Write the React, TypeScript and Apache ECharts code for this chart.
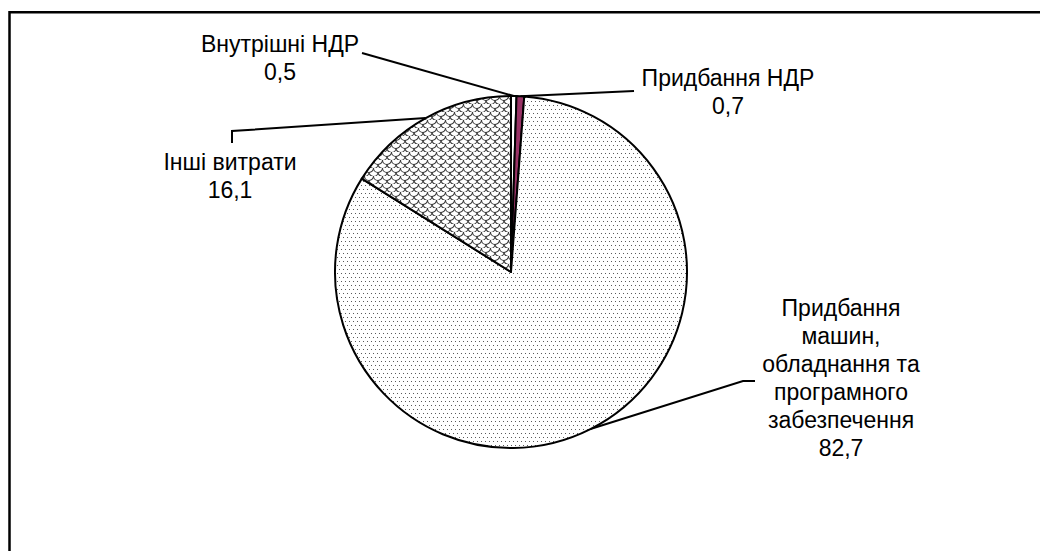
import React, { useEffect, useRef } from "react";
import * as echarts from "echarts";

const categories = [
  "Внутрішні НДР",
  "Придбання НДР",
  "Придбання\nмашин,\nобладнання та\nпрограмного\nзабезпечення",
  "Інші витрати",
];
const values = [0.5, 0.7, 82.7, 16.1];

// label placement (center x, top y) and leader line bends
const labelX = [280, 728, 841, 230];
const labelY = [30, 64, 294, 148];
const lineBends: number[][][] = [
  [[362, 53]],
  [[634, 91]],
  [[743, 381], [755, 381]],
  [[232, 131], [232, 143]],
];

function makeDotTile() {
  const c = document.createElement("canvas");
  c.width = 4;
  c.height = 8;
  const ctx = c.getContext("2d")!;
  ctx.fillStyle = "#ffffff";
  ctx.fillRect(0, 0, 4, 8);
  ctx.fillStyle = "#5a5a5a";
  ctx.fillRect(1, 1, 1, 1);
  ctx.fillRect(3, 5, 1, 1);
  return { image: c.toDataURL(), repeat: "repeat", imageWidth: 4, imageHeight: 8 };
}

function makeScaleTile() {
  const w = 9;
  const h = 8;
  const c = document.createElement("canvas");
  c.width = w;
  c.height = h;
  const ctx = c.getContext("2d")!;
  ctx.fillStyle = "#ffffff";
  ctx.fillRect(0, 0, w, h);
  ctx.strokeStyle = "#3a3a3a";
  ctx.lineWidth = 1.1;
  const centers = [
    [0, 0],
    [w, 0],
    [w / 2, h / 2],
    [0, h],
    [w, h],
  ];
  centers.forEach(([cx, cy]) => {
    ctx.beginPath();
    ctx.arc(cx, cy, w / 2, 0, Math.PI);
    ctx.stroke();
  });
  return { image: c.toDataURL(), repeat: "repeat", imageWidth: w, imageHeight: h };
}

export default function App() {
  const ref = useRef<HTMLDivElement>(null);
  useEffect(() => {
    if (!ref.current) return;
    const chart = echarts.init(ref.current, undefined, { renderer: "svg" });
    const fills: any[] = ["#ffffff", "#993366", makeDotTile(), makeScaleTile()];
    chart.setOption({
      animation: false,
      backgroundColor: "#ffffff",
      graphic: [
        {
          type: "rect",
          shape: { x: 9.5, y: 12.2, width: 1100, height: 600 },
          style: { fill: "none", stroke: "#000", lineWidth: 2.5 },
          silent: true,
          z: 10,
        },
      ],
      series: [
        {
          type: "pie",
          center: [511, 272],
          radius: 176,
          startAngle: 90,
          clockwise: true,
          avoidLabelOverlap: false,
          silent: true,
          emphasis: { disabled: true },
          itemStyle: { borderColor: "#000", borderWidth: 2 },
          label: {
            show: true,
            position: "outside",
            color: "#000",
            fontFamily: "Liberation Sans, Arial, sans-serif",
            fontSize: 23,
            lineHeight: 28,
            formatter: (p: any) => p.name + "\n" + String(p.value).replace(".", ","),
          },
          labelLine: { show: true, lineStyle: { color: "#000", width: 2 } },
          labelLayout: (params: any) => {
            const i = params.dataIndex;
            const pts = params.labelLinePoints;
            const start = pts && pts[0] ? pts[0] : [511, 96];
            return {
              x: labelX[i],
              y: labelY[i],
              align: "center",
              verticalAlign: "top",
              labelLinePoints: [start, ...lineBends[i]],
            };
          },
          data: categories.map((name, i) => ({
            name,
            value: values[i],
            itemStyle: { color: fills[i] },
          })),
        },
      ],
    });
    return () => chart.dispose();
  }, []);
  return (
    <div
      ref={ref}
      style={{ position: "fixed", left: 0, top: 0, width: 1040, height: 551 }}
    />
  );
}
